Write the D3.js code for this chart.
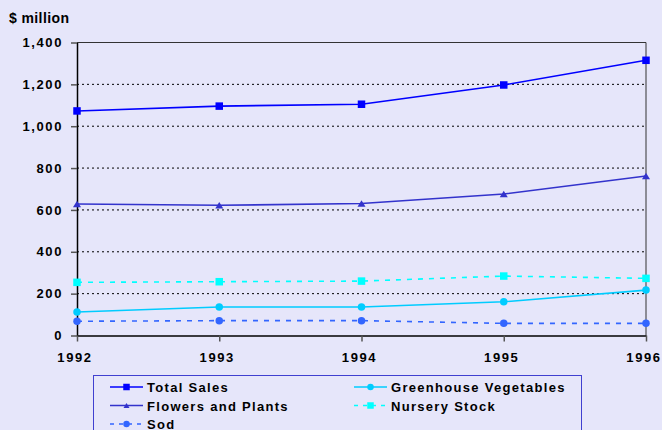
<!DOCTYPE html>
<html>
<head>
<meta charset="utf-8">
<script src="https://cdn.jsdelivr.net/npm/d3@7"></script>
<style>
  body { margin: 0; background: #e6e6fa; }
  svg { display: block; font-family: "Liberation Sans", Arial, sans-serif; }
  text { font-weight: bold; fill: #000; }
</style>
</head>
<body>
<div id="chart"></div>
<script>
const years = [1992, 1993, 1994, 1995, 1996];
const yTicks = [0, 200, 400, 600, 800, 1000, 1200, 1400];

const totalSales = [1073, 1096, 1105, 1197, 1315];
const flowersPlants = [628, 622, 631, 676, 762];
const greenhouseVeg = [112, 136, 136, 161, 217];
const nurseryStock = [254, 257, 260, 284, 273];
const sod = [68, 71, 71, 58, 58];

const series = [
    {name: "Total Sales", values: totalSales, color: "#0000ff", marker: "square", dash: null, col: 0, row: 0},
    {name: "Greenhouse Vegetables", values: greenhouseVeg, color: "#00ccff", marker: "circle", dash: null, col: 1, row: 0},
    {name: "Flowers and Plants", values: flowersPlants, color: "#3333cc", marker: "triangle", dash: null, col: 0, row: 1},
    {name: "Nursery Stock", values: nurseryStock, color: "#00ffff", marker: "square", dash: "5,6", col: 1, row: 1},
    {name: "Sod", values: sod, color: "#3366ff", marker: "circle", dash: "5,6", col: 0, row: 2}
];

const width = 662, height = 430;
const marginLeft = 77, marginRight = 16, marginTop = 42.5, marginBottom = 94.5;

const svg = d3.select("#chart").append("svg")
    .attr("width", width)
    .attr("height", height);

svg.append("rect").attr("width", width).attr("height", height).attr("fill", "#e6e6fa");

const x = d3.scaleLinear()
    .domain([1992, 1996])
    .range([marginLeft, width - marginRight]);

const y = d3.scaleLinear()
    .domain([0, 1400])
    .range([height - marginBottom, marginTop]);

// gridlines
svg.append("g")
    .selectAll("line")
    .data(yTicks.filter(d => d > 0 && d < 1400))
    .join("line")
    .attr("x1", marginLeft)
    .attr("x2", width - marginRight)
    .attr("y1", d => y(d))
    .attr("y2", d => y(d))
    .attr("stroke", "#000")
    .attr("stroke-width", 1)
    .attr("stroke-dasharray", "2,3");

// plot frame top and right
svg.append("path")
    .attr("fill", "none")
    .attr("stroke", "#333")
    .attr("stroke-width", 1)
    .attr("d", `M${x(1992)},${y(1400)}H${x(1996)}V${y(0)}`);

// y axis
const yAxis = svg.append("g")
    .attr("transform", `translate(${marginLeft},0)`)
    .call(d3.axisLeft(y).tickValues(yTicks).tickSize(6).tickSizeOuter(0).tickFormat(d3.format(",")));
yAxis.select(".domain").attr("stroke", "#000").attr("stroke-width", 1.5);
yAxis.selectAll(".tick line").attr("stroke", "#555").attr("stroke-width", 1.5);
yAxis.selectAll("text")
    .attr("x", -14)
    .style("font-size", "13px")
    .style("letter-spacing", "1.6px");

// x axis
const xAxis = svg.append("g")
    .attr("transform", `translate(0,${y(0)})`)
    .call(d3.axisBottom(x).tickValues(years).tickSize(6).tickSizeOuter(0).tickFormat(d3.format("d")));
xAxis.select(".domain").attr("stroke", "#000").attr("stroke-width", 1.5);
xAxis.selectAll(".tick line").attr("stroke", "#555").attr("stroke-width", 1.5);
xAxis.selectAll("text")
    .attr("y", 17)
    .attr("dx", -2.5)
    .style("font-size", "13px")
    .style("letter-spacing", "1.6px");

// axis title
svg.append("text")
    .attr("x", 9)
    .attr("y", 23)
    .style("font-size", "14px")
    .style("letter-spacing", "0.4px")
    .text("$ million");

function drawMarker(g, type, cx, cy, color, s) {
    if (type === "square") {
        g.append("rect")
            .attr("x", cx - s / 2).attr("y", cy - s / 2)
            .attr("width", s).attr("height", s)
            .attr("fill", color);
    } else if (type === "circle") {
        g.append("circle")
            .attr("cx", cx).attr("cy", cy).attr("r", s / 2)
            .attr("fill", color);
    } else {
        const h = s * 0.8;
        g.append("path")
            .attr("d", `M${cx},${cy - h / 2}L${cx + s / 2},${cy + h / 2}L${cx - s / 2},${cy + h / 2}Z`)
            .attr("fill", color);
    }
}

const line = d3.line()
    .x((d, i) => x(years[i]))
    .y(d => y(d));

series.forEach(s => {
    svg.append("path")
        .attr("fill", "none")
        .attr("stroke", s.color)
        .attr("stroke-width", 1.6)
        .attr("stroke-dasharray", s.dash)
        .attr("d", line(s.values));
    const g = svg.append("g");
    s.values.forEach((v, i) => {
        drawMarker(g, s.marker, x(years[i]), y(v), s.color, s.marker === "triangle" ? 8 : 7.5);
    });
});

// legend
const legend = svg.append("g");
legend.append("rect")
    .attr("x", 93.5).attr("y", 375.5)
    .attr("width", 488).attr("height", 60)
    .attr("fill", "#e6e6fa")
    .attr("stroke", "#4040d0")
    .attr("stroke-width", 1);

series.forEach(s => {
    const lx = s.col === 0 ? 110 : 354;
    const ly = 387 + s.row * 18.5;
    legend.append("line")
        .attr("x1", lx).attr("x2", lx + 33)
        .attr("y1", ly).attr("y2", ly)
        .attr("stroke", s.color)
        .attr("stroke-width", 1.5)
        .attr("stroke-dasharray", s.dash ? "4,5" : null);
    drawMarker(legend, s.marker, lx + 16.5, ly, s.color, s.marker === "triangle" ? 6 : 6.5);
    legend.append("text")
        .attr("x", lx + 37)
        .attr("y", ly + 5)
        .style("font-size", "13px")
        .style("letter-spacing", "1.3px")
        .text(s.name);
});
</script>
</body>
</html>
